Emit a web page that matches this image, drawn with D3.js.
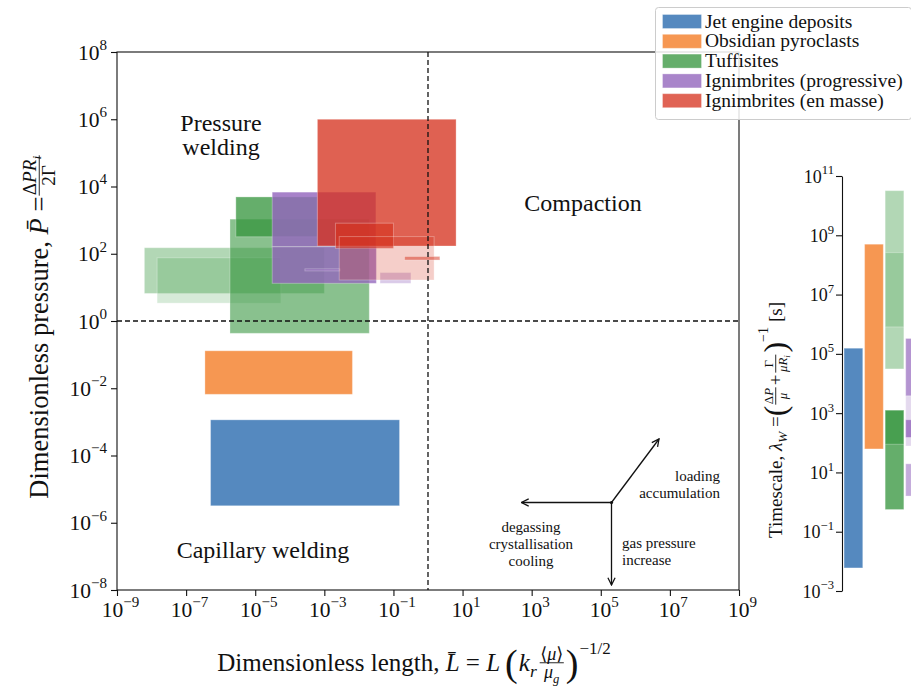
<!DOCTYPE html>
<html>
<head>
<meta charset="utf-8">
<script src="https://cdn.jsdelivr.net/npm/d3@7"></script>
<style>
  body { margin: 0; background: #fff; }
  text { font-family: "Liberation Serif", "DejaVu Serif", serif; fill: #111; }
</style>
</head>
<body>
<svg id="chart" width="911" height="689"></svg>
<script>
// ---- data ----
const seriesNames = ['Jet engine deposits', 'Obsidian pyroclasts', 'Tuffisites',
  'Ignimbrites (progressive)', 'Ignimbrites (en masse)']
// boxes: [Lmin, Lmax, Pmin, Pmax]
const jetBoxes = [[5.1e-7, 0.15, 3.2e-6, 1.15e-3]]
const obsidianBoxes = [[3.5e-7, 6.5e-3, 6.6e-3, 0.13]]
const tuffisiteBoxes = [[6.2e-9, 1e-3, 6.6, 151], [1.45e-8, 5.5e-5, 3.4, 76],
  [1.86e-6, 0.02, 0.43, 1070], [2.75e-6, 6.2e-4, 320, 4900]]
const progressiveBoxes = [[3.1e-5, 0.031, 162, 6800], [3.1e-5, 0.032, 13.2, 162],
  [2.75e-4, 2.8e-3, 31, 35.5], [0.041, 0.32, 13.2, 27.5]]
const enMasseBoxes = [[6.3e-4, 6.5, 170, 1e6], [2.1e-3, 0.1, 145, 810],
  [2.7e-3, 1.5, 16.6, 324], [0.21, 2.2, 65, 83]]
// timescale ranges [min, max] in s
const jetTimes = [[6e-3, 1.55e5]]
const obsidianTimes = [[62, 5e8]]
const tuffisiteTimes = [[3.1e4, 3.2e10], [8.1e5, 2.6e8], [0.56, 1260], [89, 1260]]
const progressiveTimes = [[3.8e3, 3.3e5], [78, 3.8e3], [151, 600], [1.6, 19.5]]
const enMasseTimes = []
const xTickValues = [1e-9, 1e-7, 1e-5, 1e-3, 1e-1, 1e1, 1e3, 1e5, 1e7, 1e9]
const yTickValues = [1e-8, 1e-6, 1e-4, 1e-2, 1, 1e2, 1e4, 1e6, 1e8]
const tTickValues = [1e-3, 1e-1, 1e1, 1e3, 1e5, 1e7, 1e9, 1e11]

// ---- styles ----
const seriesColors = ['#5589bf', '#f69752', '#34953c', '#9467bd', '#d6321e']
const legendAlpha = [1, 1, 0.76, 0.8, 0.76]
const boxAlpha = [[1], [1], [0.38, 0.2, 0.58, 0.76], [0.82, 0.8, 0.5, 0.35], [0.77, 0.65, 0.24, 0.5]]
const timeAlpha = [[1], [1], [0.38, 0.2, 0.76, 0.58], [0.7, 0.25, 0.8, 0.55], []]
const allBoxes = [jetBoxes, obsidianBoxes, tuffisiteBoxes, progressiveBoxes, enMasseBoxes]
const allTimes = [jetTimes, obsidianTimes, tuffisiteTimes, progressiveTimes, enMasseTimes]

const svg = d3.select('#chart')

// scales
const x = d3.scaleLog().domain([1e-9, 1e9]).range([117, 739])
const y = d3.scaleLog().domain([1e-8, 1e8]).range([590, 52])
const yT = d3.scaleLog().domain([1e-3, 1e11]).range([591, 176])
const xT = d3.scaleBand().domain(seriesNames).range([842, 947]).paddingInner(0.09).paddingOuter(0.1)

// boxes
const boxLayer = svg.append('g').attr('class', 'boxes')
allBoxes.forEach((boxes, s) => {
  boxLayer.append('g').selectAll('rect').data(boxes).join('rect')
    .attr('x', d => x(d[0])).attr('width', d => x(d[1]) - x(d[0]))
    .attr('y', d => y(d[3])).attr('height', d => Math.max(1.5, y(d[2]) - y(d[3])))
    .attr('fill', seriesColors[s])
    .attr('fill-opacity', (d, i) => boxAlpha[s][i])
    .attr('stroke', '#fff').attr('stroke-opacity', 0.3).attr('stroke-width', 1)
})

// regime lines
svg.append('line').attr('x1', x(1)).attr('x2', x(1)).attr('y1', 52).attr('y2', 590)
  .attr('stroke', '#111').attr('stroke-width', 1.3).attr('stroke-dasharray', '5,3')
svg.append('line').attr('x1', 117).attr('x2', 739).attr('y1', y(1)).attr('y2', y(1))
  .attr('stroke', '#111').attr('stroke-width', 1.3).attr('stroke-dasharray', '5,3')

// frame
svg.append('rect').attr('x', 117).attr('y', 52).attr('width', 622).attr('height', 538)
  .attr('fill', 'none').attr('stroke', '#111').attr('stroke-width', 1.1)

function powLabel(sel, v, fs) {
  const e = Math.round(Math.log10(v))
  sel.text(null)
  sel.append('tspan').text('10')
  sel.append('tspan').attr('dy', -fs * 0.45).attr('font-size', fs * 0.7)
    .text(e < 0 ? '\u2212' + (-e) : e)
}

const xAxis = svg.append('g').attr('transform', 'translate(0,590)')
  .call(d3.axisBottom(x).tickValues(xTickValues).tickSize(6).tickFormat(''))
xAxis.select('.domain').remove()
xAxis.selectAll('.tick line').attr('stroke', '#111').attr('stroke-width', 1.1)
xAxis.selectAll('.tick').append('text').attr('x', 3).attr('y', 27).attr('text-anchor', 'middle')
  .attr('font-size', 21.5).each(function (d) { powLabel(d3.select(this), d, 21.5) })

const yAxis = svg.append('g').attr('transform', 'translate(117,0)')
  .call(d3.axisLeft(y).tickValues(yTickValues).tickSize(6).tickFormat(''))
yAxis.select('.domain').remove()
yAxis.selectAll('.tick line').attr('stroke', '#111').attr('stroke-width', 1.1)
yAxis.selectAll('.tick').append('text').attr('x', -10).attr('y', 7).attr('text-anchor', 'end')
  .attr('font-size', 21.5).each(function (d) { powLabel(d3.select(this), d, 21.5) })

// timescale panel
const tLayer = svg.append('g')
allTimes.forEach((ranges, s) => {
  tLayer.append('g').selectAll('rect').data(ranges).join('rect')
    .attr('x', xT(seriesNames[s])).attr('width', xT.bandwidth())
    .attr('y', d => yT(d[1])).attr('height', d => yT(d[0]) - yT(d[1]))
    .attr('fill', seriesColors[s])
    .attr('fill-opacity', (d, i) => timeAlpha[s][i])
    .attr('stroke', '#fff').attr('stroke-opacity', 0.3).attr('stroke-width', 1)
})
const tAxis = svg.append('g').attr('transform', 'translate(842,0)')
  .call(d3.axisLeft(yT).tickValues(tTickValues).tickSize(6).tickFormat('').tickSizeOuter(0))
tAxis.select('.domain').attr('stroke', '#111').attr('stroke-width', 1.1)
tAxis.selectAll('.tick line').attr('stroke', '#111').attr('stroke-width', 1.1)
tAxis.selectAll('.tick').append('text').attr('x', -8).attr('y', 6).attr('text-anchor', 'end')
  .attr('font-size', 18).each(function (d) { powLabel(d3.select(this), d, 18) })

// ---- math-ish label builder ----
function parts(sel, list, fs) {
  list.forEach(p => {
    const t = sel.append('tspan').text(p.t)
    if (p.it) t.attr('font-style', 'italic')
    if (p.sub) t.attr('dy', fs * 0.25).attr('font-size', fs * 0.7)
    if (p.sup) t.attr('dy', -fs * 0.45).attr('font-size', fs * 0.7)
    if (p.back) t.attr('dy', p.back)
    if (p.fs) t.attr('font-size', p.fs)
  })
}
function mathLine(g, items, fs) {
  let cx = 0
  items.forEach(it => {
    if (it.frac) {
      const f = it.fs || fs * 0.72
      const n = g.append('text').attr('font-size', f).attr('y', -fs * 0.33 - 3)
      parts(n, it.num, f)
      const dn = g.append('text').attr('font-size', f).attr('y', -fs * 0.33 + f * 0.85)
      parts(dn, it.den, f)
      const w = Math.max(n.node().getComputedTextLength(), dn.node().getComputedTextLength()) + 3
      n.attr('x', cx + w / 2).attr('text-anchor', 'middle')
      dn.attr('x', cx + w / 2).attr('text-anchor', 'middle')
      g.append('line').attr('x1', cx + 1).attr('x2', cx + w - 1)
        .attr('y1', -fs * 0.33).attr('y2', -fs * 0.33).attr('stroke', '#111').attr('stroke-width', 0.9)
      cx += w + 1
    } else {
      const t = g.append('text').attr('x', cx).attr('font-size', it.fs || fs)
      if (it.dy) t.attr('y', it.dy)
      parts(t, it.parts, it.fs || fs)
      cx += t.node().getComputedTextLength() + (it.gap || 0)
    }
  })
  return cx
}

// x label
const xl = svg.append('g')
const xlw = mathLine(xl, [
  { parts: [{ t: 'Dimensionless length, ' }, { t: 'L\u0304', it: true }, { t: ' = ' }, { t: 'L', it: true }], gap: 5 },
  { parts: [{ t: '(' }], fs: 38, dy: 5, gap: 1 },
  { parts: [{ t: 'k', it: true }, { t: 'r', it: true, sub: true }], gap: 2 },
  { frac: true, num: [{ t: '\u27E8' }, { t: '\u03BC', it: true }, { t: '\u27E9' }],
    den: [{ t: '\u03BC', it: true }, { t: 'g', it: true, sub: true }] },
  { parts: [{ t: ')' }], fs: 38, dy: 5, gap: 1 },
  { parts: [{ t: '\u22121/2' }], fs: 17, dy: -17 }
], 25)
xl.attr('transform', `translate(${414 - xlw / 2},671)`)

// y label
const yl = svg.append('g')
const ylw = mathLine(yl, [
  { parts: [{ t: 'Dimensionless pressure, ' }, { t: 'P\u0304', it: true }, { t: ' = ' }] },
  { frac: true, num: [{ t: '\u0394' }, { t: 'PR', it: true }, { t: 'i', it: true, sub: true }],
    den: [{ t: '2\u0393' }] }
], 26.5)
yl.attr('transform', `translate(48,${326 + ylw / 2}) rotate(-90)`)

// timescale label
const tl = svg.append('g')
const tlw = mathLine(tl, [
  { parts: [{ t: 'Timescale, ' }, { t: '\u03BB', it: true }, { t: 'W', it: true, sub: true }, { t: ' = ', back: -5 }] },
  { parts: [{ t: '(' }], fs: 32, dy: 4 },
  { frac: true, fs: 13, num: [{ t: '\u0394' }, { t: 'P', it: true }], den: [{ t: '\u03BC', it: true }] },
  { parts: [{ t: ' + ' }], gap: 1 },
  { frac: true, fs: 13, num: [{ t: '\u0393' }], den: [{ t: '\u03BCR', it: true }, { t: 'i', it: true, sub: true }] },
  { parts: [{ t: ')' }], fs: 32, dy: 4 },
  { parts: [{ t: '\u22121' }], fs: 14, dy: -14, gap: 5 },
  { parts: [{ t: '[s]' }] }
], 19)
tl.attr('transform', `translate(782,${420 + tlw / 2}) rotate(-90)`)

// regime annotations (one text per line)
function note(lines, px, py, anchor, fs, lh) {
  lines.forEach((l, i) => svg.append('text').attr('font-size', fs).attr('text-anchor', anchor)
    .attr('x', px).attr('y', py + i * lh).text(l))
}
note(['Pressure', 'welding'], 221, 131, 'middle', 24, 24)
note(['Compaction'], 583, 211, 'middle', 24, 24)
note(['Capillary welding'], 263, 558, 'middle', 24, 24)
note(['loading', 'accumulation'], 720, 481, 'end', 15, 17)
note(['degassing', 'crystallisation', 'cooling'], 531, 532, 'middle', 15, 17)
note(['gas pressure', 'increase'], 622, 548, 'start', 15, 17)

// process arrows
svg.append('defs').append('marker').attr('id', 'head').attr('viewBox', '0 0 10 10')
  .attr('refX', 9).attr('refY', 5).attr('markerWidth', 9).attr('markerHeight', 9)
  .attr('markerUnits', 'userSpaceOnUse').attr('orient', 'auto')
  .append('path').attr('d', 'M1,1 L9,5 L1,9').attr('fill', 'none').attr('stroke', '#111').attr('stroke-width', 1.4)
const origin = [611.5, 502.5]
const tips = [[521.5, 502.5], [611.5, 585], [659, 439]]
tips.forEach(t => {
  svg.append('line').attr('x1', origin[0]).attr('y1', origin[1]).attr('x2', t[0]).attr('y2', t[1])
    .attr('stroke', '#111').attr('stroke-width', 1.3).attr('marker-end', 'url(#head)')
})
svg.append('circle').attr('cx', origin[0]).attr('cy', origin[1]).attr('r', 1.6).attr('fill', '#111')

// legend
const lg = svg.append('g')
lg.append('rect').attr('x', 655.5).attr('y', 7.5).attr('width', 256).attr('height', 112).attr('rx', 3)
  .attr('fill', '#fff').attr('fill-opacity', 0.85).attr('stroke', '#ccc')
seriesNames.forEach((n, i) => {
  const cy = 21.5 + i * 19.8
  lg.append('rect').attr('x', 662.5).attr('y', cy - 7).attr('width', 39).attr('height', 14)
    .attr('fill', seriesColors[i]).attr('fill-opacity', legendAlpha[i])
    .attr('stroke', '#fff').attr('stroke-opacity', 0.3)
  lg.append('text').attr('x', 705).attr('y', cy + 6).attr('font-size', 19.5).text(n)
})
</script>
</body>
</html>
